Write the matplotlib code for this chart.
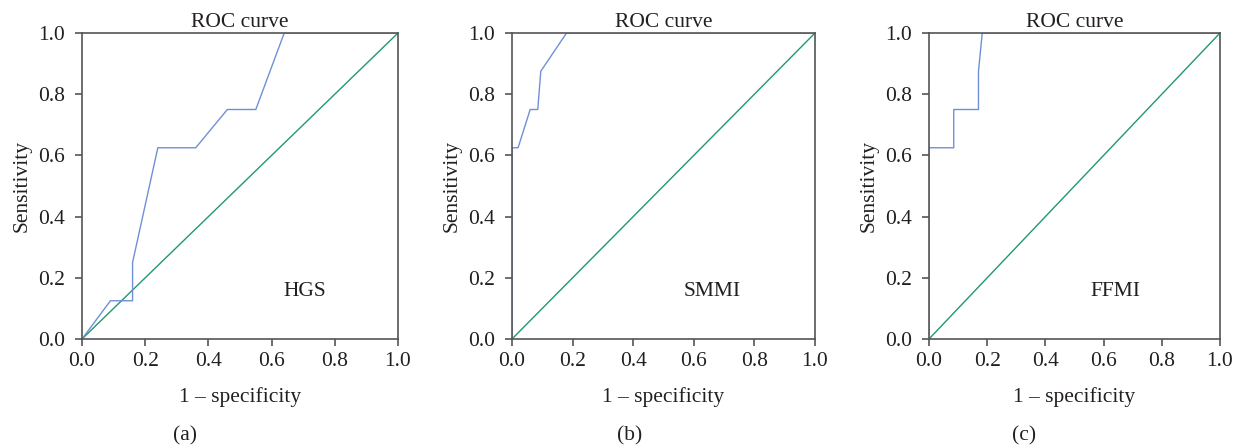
import matplotlib
matplotlib.use('Agg')
import matplotlib.pyplot as plt

# ROC curve points: (1 - specificity, sensitivity)
hgs_fpr = [0.0, 0.09, 0.16, 0.16, 0.24, 0.36, 0.46, 0.55, 0.64, 1.0]
hgs_tpr = [0.0, 0.125, 0.125, 0.25, 0.625, 0.625, 0.75, 0.75, 1.0, 1.0]

smmi_fpr = [0.0, 0.0, 0.02, 0.06, 0.085, 0.095, 0.18, 1.0]
smmi_tpr = [0.0, 0.625, 0.625, 0.75, 0.75, 0.875, 1.0, 1.0]

ffmi_fpr = [0.0, 0.0, 0.085, 0.085, 0.17, 0.17, 0.183, 1.0]
ffmi_tpr = [0.0, 0.625, 0.625, 0.75, 0.75, 0.875, 1.0, 1.0]

names = ['HGS', 'SMMI', 'FFMI']
panel_tags = ['(a)', '(b)', '(c)']
ticks = [0.0, 0.2, 0.4, 0.6, 0.8, 1.0]
tick_labels = ['0.0', '0.2', '0.4', '0.6', '0.8', '1.0']

plt.rcParams['font.family'] = ['Liberation Serif', 'DejaVu Serif']
fs = 15.5

blue = '#7090d6'
green = '#1f9a6c'
spine_col = '#555555'
text_col = '#231f20'

fig = plt.figure(figsize=(12.43, 4.46), dpi=100)
W, H = 1243.0, 446.0
# axes boxes in pixels: left, right
boxes = [(82, 398), (512, 815), (929, 1220)]
top, bottom = 33, 339
name_x = [0.706, 0.66, 0.64]
tag_x = [185, 630, 1024]

curves = [(hgs_fpr, hgs_tpr), (smmi_fpr, smmi_tpr), (ffmi_fpr, ffmi_tpr)]

for i, (l, r) in enumerate(boxes):
    ax = fig.add_axes([l / W, (H - bottom) / H, (r - l) / W, (bottom - top) / H])
    fpr, tpr = curves[i]
    ax.plot([0, 1], [0, 1], color=green, lw=1.0)
    ax.plot(fpr, tpr, color=blue, lw=1.0)
    ax.set_xlim(0, 1)
    ax.set_ylim(0, 1)
    ax.set_xticks(ticks)
    ax.set_xticklabels(tick_labels)
    ax.set_yticks(ticks)
    ax.set_yticklabels(tick_labels)
    for s in ax.spines.values():
        s.set_color(spine_col)
        s.set_linewidth(1.2)
    ax.tick_params(direction='out', length=5, width=1.2, color=spine_col,
                   labelcolor=text_col, labelsize=fs)
    ax.tick_params(axis='y', pad=7)
    ax.tick_params(axis='x', pad=4)
    ax.set_xlabel('1 – specificity', color=text_col, fontsize=fs, labelpad=12)
    ax.set_ylabel('Sensitivity', color=text_col, fontsize=fs, labelpad=5)
    ax.set_title('ROC curve', color=text_col, fontsize=fs, pad=4)
    ax.text(name_x[i], 0.155, names[i], color=text_col, fontsize=fs,
            ha='center', va='center')
    fig.text(tag_x[i] / W, 1 - 436 / H, panel_tags[i], color=text_col,
             fontsize=fs, ha='center', va='center')

fig.savefig('out.png', dpi=100)
